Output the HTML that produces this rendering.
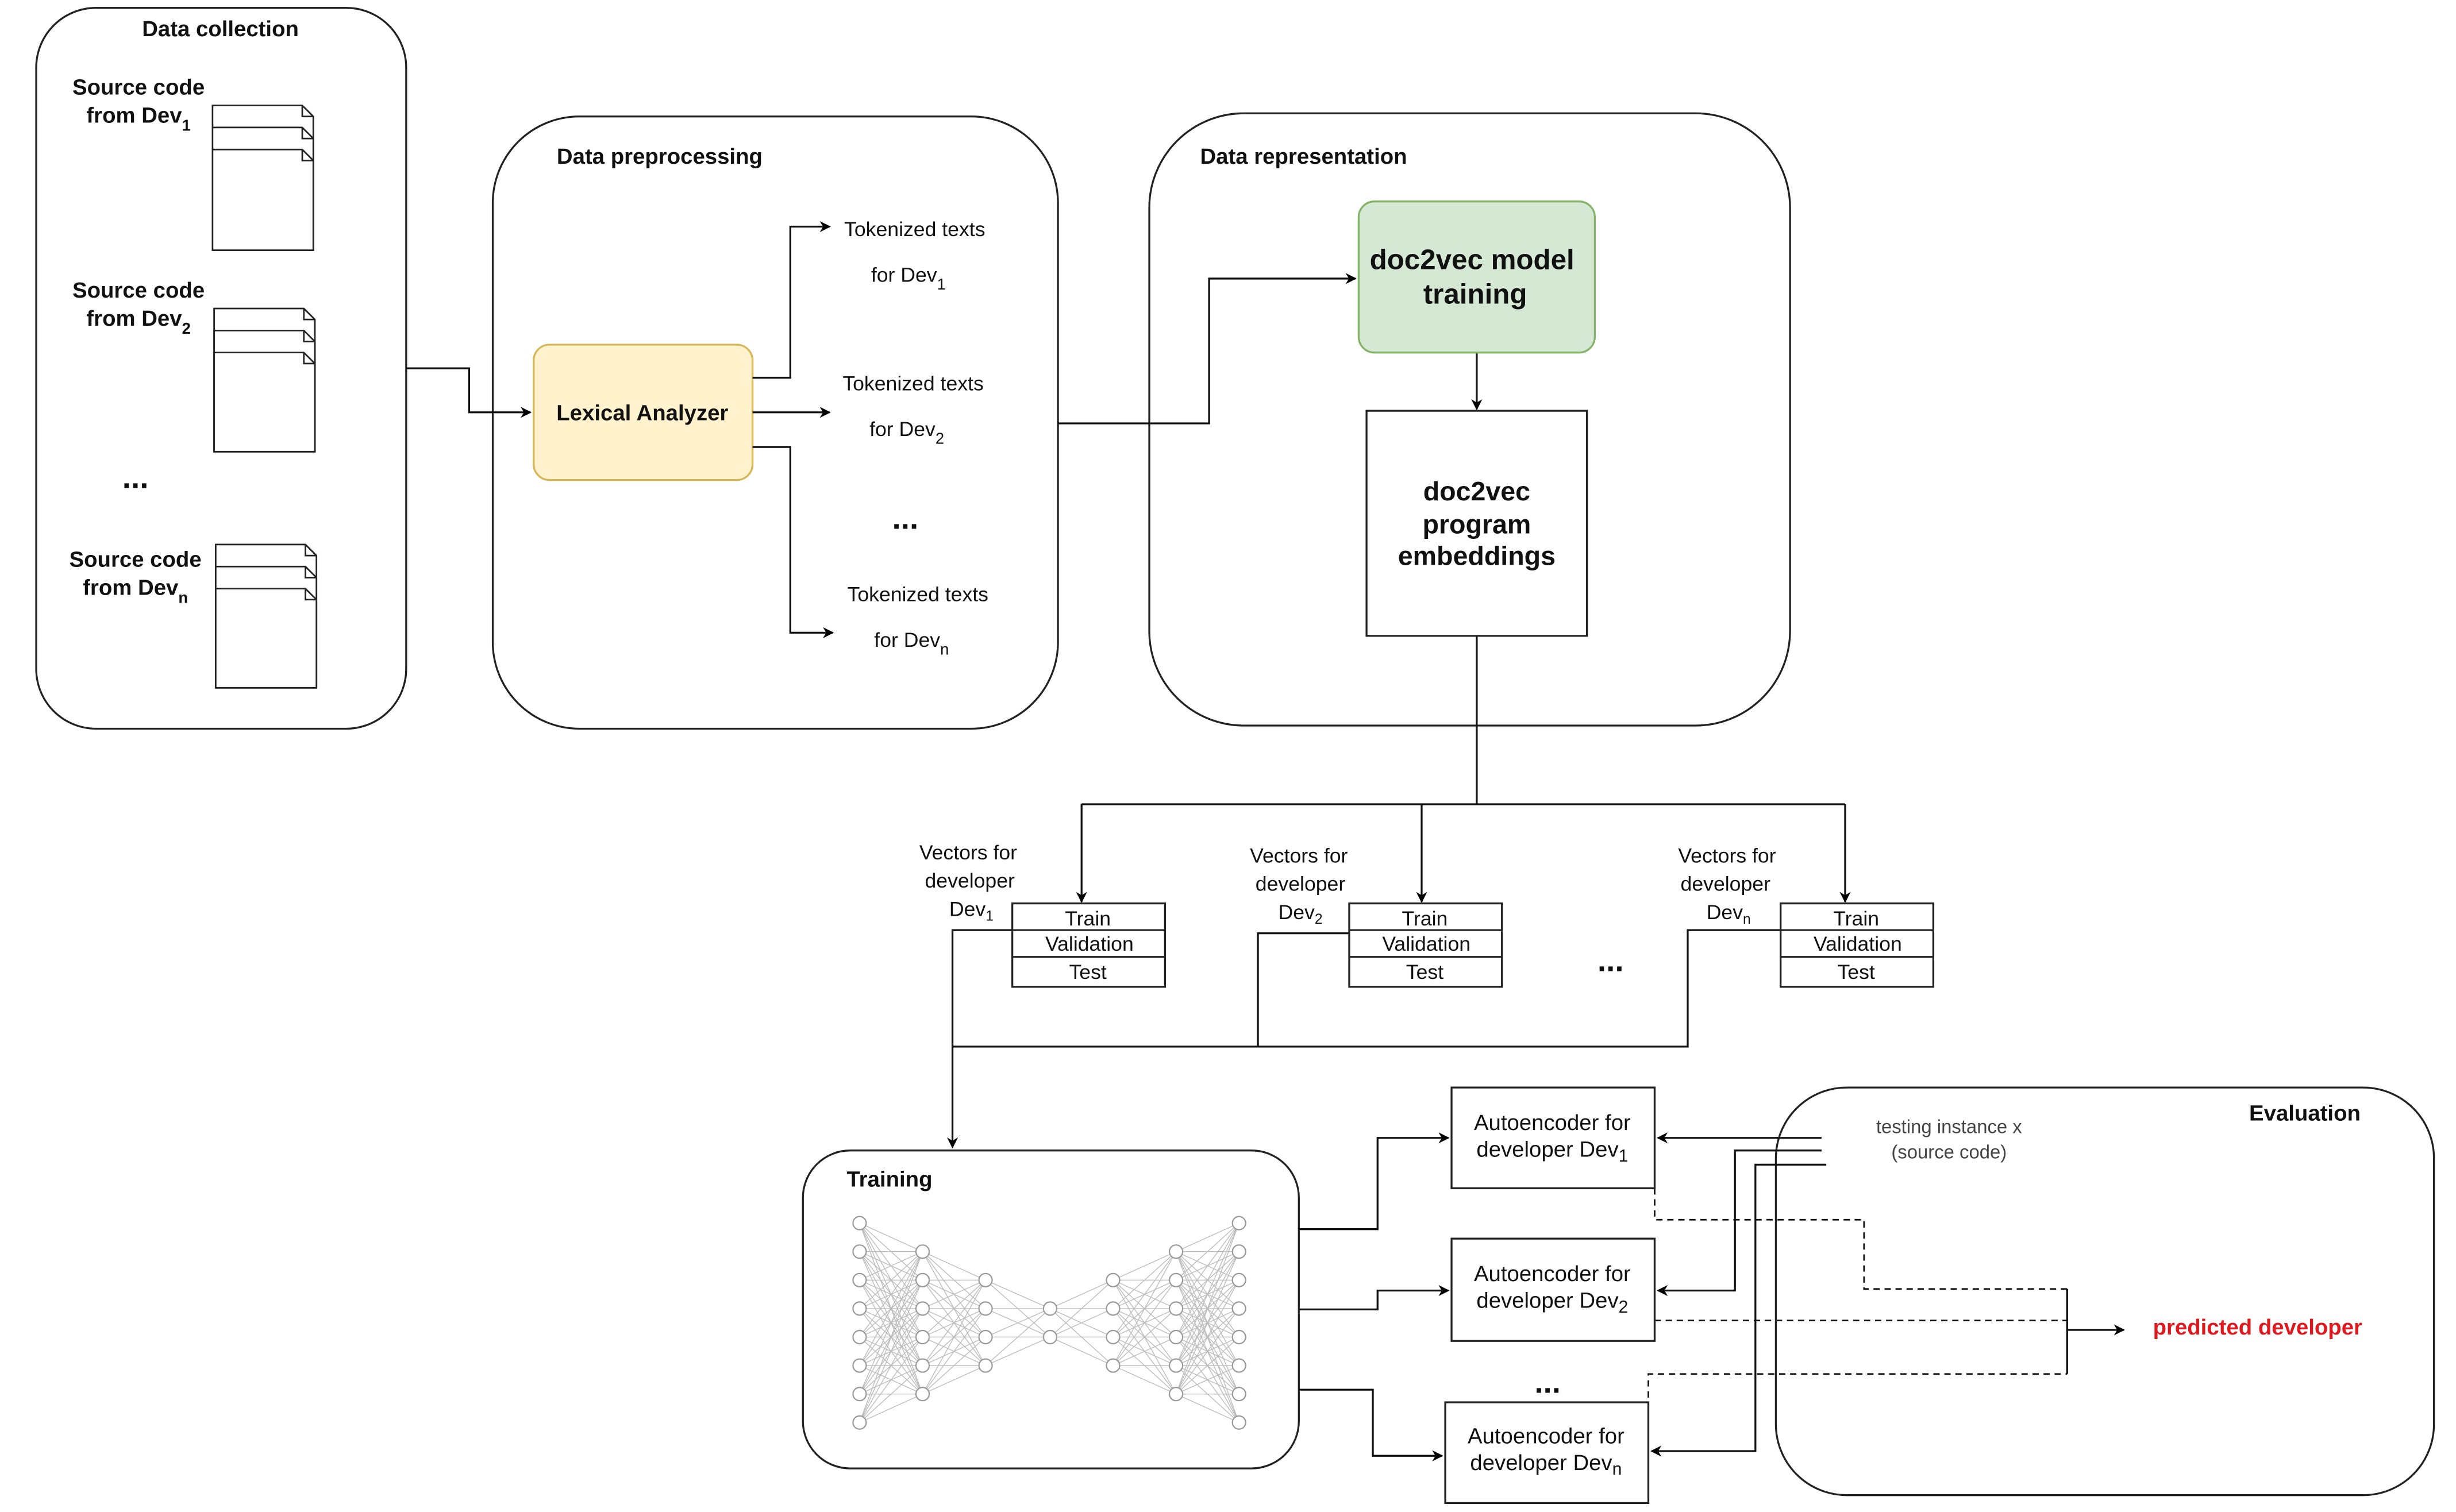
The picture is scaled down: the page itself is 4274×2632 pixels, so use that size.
<!DOCTYPE html>
<html><head><meta charset="utf-8"><style>
html,body{margin:0;padding:0;background:#fff;}
svg{display:block;}
text{font-family:"Liberation Sans",sans-serif;fill:#111;}
.t{font-size:14px;font-weight:bold;}
.s{font-size:13px;}
.b{font-size:14px;font-weight:bold;}
</style></head><body>
<svg id="g" width="4274" height="2632" viewBox="0 0 1560 960.7" preserveAspectRatio="none" xmlns="http://www.w3.org/2000/svg">
<defs>
<marker id="a" viewBox="0 0 10 10" refX="9" refY="5" markerWidth="7" markerHeight="7" orient="auto" markerUnits="userSpaceOnUse"><path d="M0,0 L10,5 L0,10 L3,5 z" fill="#000"/></marker>
</defs>
<g fill="none" stroke="#222" stroke-width="1.2">
<rect x="23" y="5" width="235" height="458" rx="38"/>
<rect x="313" y="74" width="359" height="389" rx="55"/>
<rect x="730" y="72" width="407" height="389" rx="60"/>
<rect x="510" y="731" width="315" height="202" rx="30"/>
<rect x="1128" y="691" width="418" height="259" rx="45"/>
</g>
<text class="t" x="140" y="23" text-anchor="middle">Data collection</text>
<text class="t" x="419" y="104" text-anchor="middle">Data preprocessing</text>
<text class="t" x="828" y="104" text-anchor="middle">Data representation</text>
<text class="t" x="565" y="754" text-anchor="middle">Training</text>
<text class="t" x="1464" y="712" text-anchor="middle">Evaluation</text>

<!-- docs -->
<g fill="#fff" stroke="#222" stroke-width="1">
<path d="M135,67 h57 l7,7 v85 h-64z M192,67 v7 h7"/>
<path d="M135,81 h57 l7,7 v71 h-64z M192,81 v7 h7"/>
<path d="M135,95 h57 l7,7 v57 h-64z M192,95 v7 h7"/>
<path d="M136,196 h57 l7,7 v84 h-64z M193,196 v7 h7"/>
<path d="M136,210 h57 l7,7 v70 h-64z M193,210 v7 h7"/>
<path d="M136,224 h57 l7,7 v56 h-64z M193,224 v7 h7"/>
<path d="M137,346 h57 l7,7 v84 h-64z M194,346 v7 h7"/>
<path d="M137,360 h57 l7,7 v70 h-64z M194,360 v7 h7"/>
<path d="M137,374 h57 l7,7 v56 h-64z M194,374 v7 h7"/>
</g>
<text class="b" x="88" y="60" text-anchor="middle">Source code</text>
<text class="b" x="88" y="78" text-anchor="middle">from Dev<tspan font-size="10" dy="5">1</tspan></text>
<text class="b" x="88" y="189" text-anchor="middle">Source code</text>
<text class="b" x="88" y="207" text-anchor="middle">from Dev<tspan font-size="10" dy="5">2</tspan></text>
<text class="b" x="86" y="360" text-anchor="middle">Source code</text>
<text class="b" x="86" y="378" text-anchor="middle">from Dev<tspan font-size="10" dy="5">n</tspan></text>
<text x="86" y="310" font-size="20" font-weight="bold" text-anchor="middle">...</text>

<rect x="339" y="219" width="139" height="86" rx="10" fill="#fff2cc" stroke="#d6b656" stroke-width="1.2"/>
<text class="b" x="408" y="267" text-anchor="middle">Lexical Analyzer</text>

<g fill="none" stroke="#111" stroke-width="1.2">
<path d="M258,234 H298 V262 H337" marker-end="url(#a)"/>
<path d="M478,240 H502 V144 H527" marker-end="url(#a)"/>
<path d="M478,262 H527" marker-end="url(#a)"/>
<path d="M478,284 H502 V402 H529" marker-end="url(#a)"/>
<path d="M672,269 H768 V177 H861" marker-end="url(#a)"/>
<path d="M938,224 V260" marker-end="url(#a)"/>
<path d="M938,404 V511 M687,511 H1172"/>
<path d="M687,511 V573" marker-end="url(#a)"/>
<path d="M903,511 V573" marker-end="url(#a)"/>
<path d="M1172,511 V573" marker-end="url(#a)"/>
<path d="M643,591 H605 V665 M857,593 H799 V665 M1131,591 H1072 V665 H605"/>
<path d="M605,665 V729" marker-end="url(#a)"/>
<path d="M825,781 H875 V723 H920" marker-end="url(#a)"/>
<path d="M825,832 H875 V820 H920" marker-end="url(#a)"/>
<path d="M825,883 H872 V925 H916" marker-end="url(#a)"/>
<path d="M1157,723 H1053" marker-end="url(#a)"/>
<path d="M1157,731 H1102 V820 H1053" marker-end="url(#a)"/>
<path d="M1160,740 H1115 V922 H1049" marker-end="url(#a)"/>
<path d="M1313,819 V873 M1313,845 H1349" marker-end="url(#a)"/>
</g>
<g fill="none" stroke="#111" stroke-width="1" stroke-dasharray="4,3">
<path d="M1051,755 V775 H1184 V819 H1313"/>
<path d="M1051,839 H1313"/>
<path d="M1047,888 V873 H1313"/>
</g>

<text class="s" x="581" y="150" text-anchor="middle">Tokenized texts</text>
<text class="s" x="577" y="179" text-anchor="middle">for Dev<tspan font-size="10" dy="5">1</tspan></text>
<text class="s" x="580" y="248" text-anchor="middle">Tokenized texts</text>
<text class="s" x="576" y="277" text-anchor="middle">for Dev<tspan font-size="10" dy="5">2</tspan></text>
<text class="s" x="583" y="382" text-anchor="middle">Tokenized texts</text>
<text class="s" x="579" y="411" text-anchor="middle">for Dev<tspan font-size="10" dy="5">n</tspan></text>
<text x="575" y="336" font-size="20" font-weight="bold" text-anchor="middle">...</text>

<rect x="863" y="128" width="150" height="96" rx="10" fill="#d5e8d4" stroke="#82b366" stroke-width="1.2"/>
<text x="935" y="171" font-size="18" font-weight="bold" text-anchor="middle">doc2vec model</text>
<text x="937" y="193" font-size="18" font-weight="bold" text-anchor="middle">training</text>
<rect x="868" y="261" width="140" height="143" fill="#fff" stroke="#222" stroke-width="1.2"/>
<text x="938" y="318" font-size="17" font-weight="bold" text-anchor="middle">doc2vec</text>
<text x="938" y="339" font-size="17" font-weight="bold" text-anchor="middle">program</text>
<text x="938" y="359" font-size="17" font-weight="bold" text-anchor="middle">embeddings</text>

<g fill="#fff" stroke="#222" stroke-width="1.2">
<rect x="643" y="574" width="97" height="53"/><path d="M643,591 H740 M643,608 H740"/>
<rect x="857" y="574" width="97" height="53"/><path d="M857,591 H954 M857,608 H954"/>
<rect x="1131" y="574" width="97" height="53"/><path d="M1131,591 H1228 M1131,608 H1228"/>
</g>
<text x="691" y="588" class="s" text-anchor="middle">Train</text><text x="692" y="604" class="s" text-anchor="middle">Validation</text><text x="691" y="622" class="s" text-anchor="middle">Test</text>
<text x="905" y="588" class="s" text-anchor="middle">Train</text><text x="906" y="604" class="s" text-anchor="middle">Validation</text><text x="905" y="622" class="s" text-anchor="middle">Test</text>
<text x="1179" y="588" class="s" text-anchor="middle">Train</text><text x="1180" y="604" class="s" text-anchor="middle">Validation</text><text x="1179" y="622" class="s" text-anchor="middle">Test</text>
<text x="615" y="546" class="s" text-anchor="middle">Vectors  for</text><text x="616" y="564" class="s" text-anchor="middle">developer</text><text x="617" y="582" class="s" text-anchor="middle">Dev<tspan font-size="9" dy="3">1</tspan></text>
<text x="825" y="548" class="s" text-anchor="middle">Vectors  for</text><text x="826" y="566" class="s" text-anchor="middle">developer</text><text x="826" y="584" class="s" text-anchor="middle">Dev<tspan font-size="9" dy="3">2</tspan></text>
<text x="1097" y="548" class="s" text-anchor="middle">Vectors  for</text><text x="1096" y="566" class="s" text-anchor="middle">developer</text><text x="1098" y="584" class="s" text-anchor="middle">Dev<tspan font-size="9" dy="3">n</tspan></text>
<text x="1023" y="617" font-size="20" font-weight="bold" text-anchor="middle">...</text>

<g fill="#fff" stroke="#222" stroke-width="1.2">
<rect x="922" y="691" width="129" height="64"/>
<rect x="922" y="787" width="129" height="65"/>
<rect x="918" y="891" width="129" height="64"/>
</g>
<text x="986" y="718" font-size="14" text-anchor="middle">Autoencoder for</text><text x="986" y="735" font-size="14" text-anchor="middle">developer Dev<tspan font-size="11" dy="3">1</tspan></text>
<text x="986" y="814" font-size="14" text-anchor="middle">Autoencoder for</text><text x="986" y="831" font-size="14" text-anchor="middle">developer Dev<tspan font-size="11" dy="3">2</tspan></text>
<text x="982" y="917" font-size="14" text-anchor="middle">Autoencoder for</text><text x="982" y="934" font-size="14" text-anchor="middle">developer Dev<tspan font-size="11" dy="3">n</tspan></text>
<text x="983" y="885" font-size="20" font-weight="bold" text-anchor="middle">...</text>
<text x="1238" y="720" font-size="12" text-anchor="middle" style="fill:#444">testing instance x</text>
<text x="1238" y="736" font-size="12" text-anchor="middle" style="fill:#444">(source code)</text>
<text x="1434" y="848" font-size="14" font-weight="bold" text-anchor="middle" style="fill:#e0191f">predicted developer</text>

<g id="nn" stroke="#bbb" stroke-width="0.5" fill="none"></g>
<g id="nc" stroke="#999" stroke-width="0.8" fill="#fff"></g>
</svg>
<script>
(function(){
var xs=[546,586,626,667,707,747,787],cnt=[8,6,4,2,4,6,8],c=840.5,st=18.1;
var L=[];for(var i=0;i<7;i++){var a=[];for(var j=0;j<cnt[i];j++)a.push(c+(j-(cnt[i]-1)/2)*st);L.push(a);}
var ns="http://www.w3.org/2000/svg",nn=document.getElementById('nn'),nc=document.getElementById('nc'),d="";
for(var i=0;i<6;i++)for(var p=0;p<L[i].length;p++)for(var q=0;q<L[i+1].length;q++)d+="M"+xs[i]+","+L[i][p]+"L"+xs[i+1]+","+L[i+1][q];
var pa=document.createElementNS(ns,'path');pa.setAttribute('d',d);nn.appendChild(pa);
for(var i=0;i<7;i++)for(var p=0;p<L[i].length;p++){var ci=document.createElementNS(ns,'circle');ci.setAttribute('cx',xs[i]);ci.setAttribute('cy',L[i][p]);ci.setAttribute('r',4.2);nc.appendChild(ci);}
})();
</script>
</body></html>
